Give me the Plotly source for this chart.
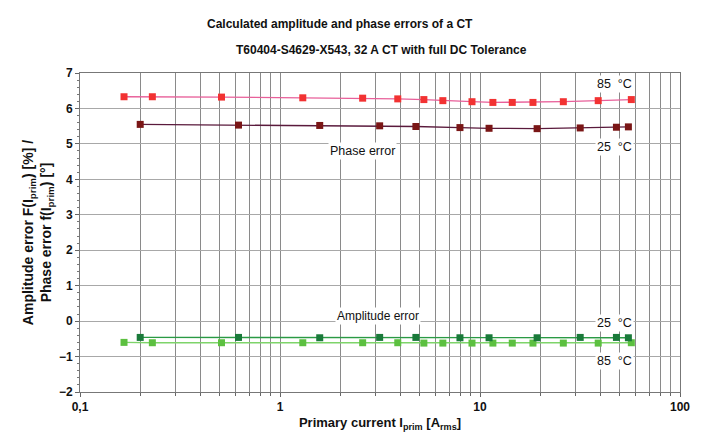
import plotly.graph_objects as go
import math

# ---- data ----
x_85 = [0.166, 0.23, 0.51, 1.30, 2.59, 3.88, 5.24, 6.52, 9.12, 11.6, 14.5, 18.4, 26.1, 39.0, 57.1]
phase_85 = [6.33, 6.33, 6.32, 6.30, 6.29, 6.27, 6.25, 6.22, 6.19, 6.17, 6.17, 6.17, 6.19, 6.22, 6.25]
ampl_85 = [-0.60, -0.61, -0.61, -0.61, -0.61, -0.61, -0.62, -0.62, -0.62, -0.62, -0.62, -0.62, -0.62, -0.62, -0.61]

x_25 = [0.20, 0.62, 1.58, 3.15, 4.78, 7.94, 11.1, 19.3, 31.7, 48.1, 55.2]
phase_25 = [5.55, 5.53, 5.52, 5.51, 5.49, 5.46, 5.44, 5.43, 5.45, 5.47, 5.48]
ampl_25 = [-0.46, -0.46, -0.47, -0.46, -0.46, -0.47, -0.47, -0.47, -0.46, -0.46, -0.47]

x_tick_vals = [0.1, 1, 10, 100]
x_tick_text = ["0,1", "1", "10", "100"]

title = "Calculated amplitude and phase errors of a CT"
subtitle = "T60404-S4629-X543, 32 A CT with full DC Tolerance"

FONT = "Liberation Sans, Arial, sans-serif"

# The page body adds an 8 px offset; the figure is sized so the plot area
# lands at x 80..680, y 73..392 in the 701x433 window.
fig = go.Figure()

def add(x, y, line_color, marker_color):
    fig.add_trace(go.Scatter(
        x=x, y=y, mode="lines+markers",
        line=dict(color=line_color, width=1.3),
        marker=dict(symbol="square", size=7, color=marker_color),
        showlegend=False, hoverinfo="x+y"))

add(x_85, phase_85, "#e8609a", "#f23232")
add(x_25, phase_25, "#5a1a3c", "#7a1616")
add(x_85, ampl_85, "#7ed46a", "#5cc040")
add(x_25, ampl_25, "#2a9a44", "#1a7a3a")

def label(text, xval, y, size=12.5):
    fig.add_annotation(x=math.log10(xval), y=y, xref="x", yref="y", text=text,
                       showarrow=False, bgcolor="white",
                       xanchor="center", yanchor="middle",
                       font=dict(family=FONT, size=size, color="#111"),
                       borderpad=1)

label("85  °C", 47, 6.69)
label("25  °C", 47, 4.91)
label("Phase error", 2.6, 4.80)
label("Amplitude error", 3.1, 0.14, size=12)
label("25  °C", 47, -0.06)
label("85  °C", 47, -1.13)

fig.add_annotation(text="<b>" + title + "</b>", xref="paper", yref="paper",
                   x=(340 - 80) / 600, y=1 + (73 - 24) / 319, showarrow=False,
                   xanchor="center", yanchor="middle",
                   font=dict(family=FONT, size=12, color="#111"))
fig.add_annotation(text="<b>" + subtitle + "</b>", xref="paper", yref="paper",
                   x=(381 - 80) / 600, y=1 + (73 - 50) / 319, showarrow=False,
                   xanchor="center", yanchor="middle",
                   font=dict(family=FONT, size=12, color="#111"))

fig.update_layout(
    width=693, height=425,
    margin=dict(l=72, r=21, t=65, b=41),
    paper_bgcolor="white", plot_bgcolor="white",
    font=dict(family=FONT, color="#111"),
)

fig.update_xaxes(
    type="log", range=[-1, 2], automargin=False,
    tickvals=x_tick_vals, ticktext=["<b>" + t + "</b>" for t in x_tick_text],
    tickfont=dict(family=FONT, size=12, color="#111"),
    showgrid=True, gridcolor="#8a8a8a", gridwidth=1,
    minor=dict(dtick="D1", showgrid=True, gridcolor="#8a8a8a", gridwidth=1,
               ticks="outside", ticklen=3, tickcolor="#666"),
    ticks="outside", ticklen=4, tickcolor="#666",
    showline=True, linecolor="#777", linewidth=1, mirror=True,
    zeroline=False,
    title=dict(text="<b>Primary current I<sub>prim</sub> [A<sub>rms</sub>]</b>",
               font=dict(family=FONT, size=13, color="#111"), standoff=4),
)

fig.update_yaxes(
    range=[-2, 7], dtick=1, automargin=False,
    tickfont=dict(family=FONT, size=12, color="#111", weight="bold"),
    showgrid=True, gridcolor="#a8a8a8", gridwidth=1,
    ticks="outside", ticklen=4, tickcolor="#666",
    minor=dict(dtick=0.2, ticks="outside", ticklen=2, tickcolor="#777", showgrid=False),
    showline=True, linecolor="#777", linewidth=1, mirror=True,
    zeroline=False,
    title=dict(text="<b>Amplitude error F(I<sub>prim</sub>) [%] /<br>Phase error f(I<sub>prim</sub>) [°]</b>",
               font=dict(family=FONT, size=14, color="#111"), standoff=3),
)

fig.write_html("out.html")
